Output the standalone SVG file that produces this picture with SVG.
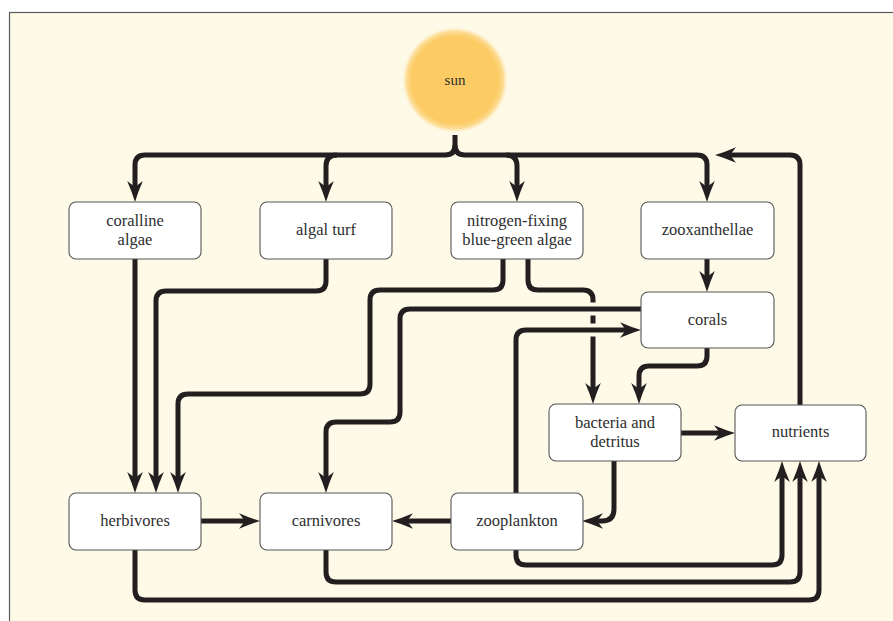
<svg xmlns="http://www.w3.org/2000/svg" width="893" height="621" viewBox="0 0 893 621" font-family="Liberation Serif, DejaVu Serif, serif">
<style>
.bg{fill:#fefae8;stroke:#5a5a5a;stroke-width:1.2}
.box{fill:#ffffff;stroke:#555555;stroke-width:1.1}
text{font-family:"Liberation Serif",serif}
.lbl{font-size:16.5px;fill:#2e2e2e;text-anchor:middle}
.c{fill:none;stroke:#231f20;stroke-width:5}
.arr{marker-end:url(#ah)}
.gap{fill:none;stroke:#fefae8;stroke-width:13}
</style>
<defs>
<marker id="ah" viewBox="-10 -9 23 18" markerWidth="23" markerHeight="18" refX="0" refY="0" orient="auto" markerUnits="userSpaceOnUse">
<path d="M12,0 Q2,-3 -9,-7.8 L-3,0 L-9,7.8 Q2,3 12,0 Z" fill="#231f20"/>
</marker>
<radialGradient id="sunG" cx="0.5" cy="0.5" r="0.5">
<stop offset="0" stop-color="#fccb64"/>
<stop offset="0.8" stop-color="#fccb64"/>
<stop offset="0.9" stop-color="#fddc94"/>
<stop offset="1" stop-color="#fefae8" stop-opacity="0"/>
</radialGradient>
</defs>
<rect x="0" y="0" width="893" height="621" fill="#ffffff"/>
<rect class="bg" x="9.5" y="12.5" width="900" height="620"/>

<g id="sun">
<circle cx="455" cy="80" r="54" fill="url(#sunG)"/>
<text class="lbl" x="455" y="85" style="font-size:15px">sun</text>
</g>

<g id="connectors">
<path class="c arr" d="M455,135 L455,145 Q455,155 445,155 L145,155 Q135,155 135,165 L135,190"/>
<path class="c arr" d="M455,145 Q455,155 465,155 L697,155 Q707,155 707,165 L707,190"/>
<path class="c arr" d="M337,155 Q326,155 326,166 L326,190"/>
<path class="c arr" d="M506,155 Q517,155 517,166 L517,190"/>
<path class="c arr" d="M135,259 L135,481"/>
<path class="c arr" d="M326,259 L326,281 Q326,291 316,291 L166,291 Q156,291 156,301 L156,481"/>
<path class="c arr" d="M503,259 L503,280 Q503,290 493,290 L380,290 Q370,290 370,300 L370,384 Q370,394 360,394 L188,394 Q178,394 178,404 L178,481"/>
<path class="c arr" d="M528,259 L528,280 Q528,290 538,290 L583,290 Q593,290 593,300 L593,392"/>
<path class="gap" d="M583,309 L603,309"/>
<path class="gap" d="M583,330 L603,330"/>
<path class="c arr" d="M641,309 L410,309 Q400,309 400,319 L400,412 Q400,422 390,422 L336,422 Q326,422 326,432 L326,481"/>
<path class="c arr" d="M516,493 L516,340 Q516,330 526,330 L629,330"/>
<path class="c arr" d="M707,259 L707,280"/>
<path class="c arr" d="M707,348 L707,356 Q707,366 697,366 L649,366 Q639,366 639,376 L639,392"/>
<path class="c arr" d="M681,433 L723,433"/>
<path class="c arr" d="M614,461 L614,509 Q614,521 602,521 L594,521"/>
<path class="c arr" d="M201,521 L248,521"/>
<path class="c arr" d="M451,521 L404,521"/>
<path class="c arr" d="M516,550 L516,555 Q516,565 526,565 L772,565 Q782,565 782,555 L782,473"/>
<path class="c arr" d="M326,550 L326,572 Q326,582 336,582 L790,582 Q800,582 800,572 L800,473"/>
<path class="c arr" d="M135,550 L135,590 Q135,600 145,600 L809,600 Q819,600 819,590 L819,473"/>
<path class="c arr" d="M800,405 L800,165 Q800,155 790,155 L727,155"/>
</g>

<g id="coralline-algae">
<rect class="box" x="69" y="202" width="132" height="57" rx="7"/>
<text class="lbl" x="135" y="226">coralline</text>
<text class="lbl" x="135" y="245">algae</text>
</g>
<g id="algal-turf">
<rect class="box" x="260" y="202" width="132" height="57" rx="7"/>
<text class="lbl" x="326" y="235">algal turf</text>
</g>
<g id="nitrogen-fixing">
<rect class="box" x="451" y="202" width="132" height="57" rx="7"/>
<text class="lbl" x="517" y="226">nitrogen-fixing</text>
<text class="lbl" x="517" y="245">blue-green algae</text>
</g>
<g id="zooxanthellae">
<rect class="box" x="641" y="202" width="133" height="57" rx="7"/>
<text class="lbl" x="707.5" y="235">zooxanthellae</text>
</g>
<g id="corals">
<rect class="box" x="641" y="292" width="133" height="56" rx="7"/>
<text class="lbl" x="707.5" y="325">corals</text>
</g>
<g id="bacteria-detritus">
<rect class="box" x="549" y="404" width="132" height="57" rx="7"/>
<text class="lbl" x="615" y="428">bacteria and</text>
<text class="lbl" x="615" y="447">detritus</text>
</g>
<g id="nutrients">
<rect class="box" x="735" y="405" width="131" height="56" rx="7"/>
<text class="lbl" x="800.5" y="437">nutrients</text>
</g>
<g id="herbivores">
<rect class="box" x="69" y="493" width="132" height="57" rx="7"/>
<text class="lbl" x="135" y="526">herbivores</text>
</g>
<g id="carnivores">
<rect class="box" x="260" y="493" width="132" height="57" rx="7"/>
<text class="lbl" x="326" y="526">carnivores</text>
</g>
<g id="zooplankton">
<rect class="box" x="451" y="493" width="132" height="57" rx="7"/>
<text class="lbl" x="517" y="526">zooplankton</text>
</g>
</svg>
